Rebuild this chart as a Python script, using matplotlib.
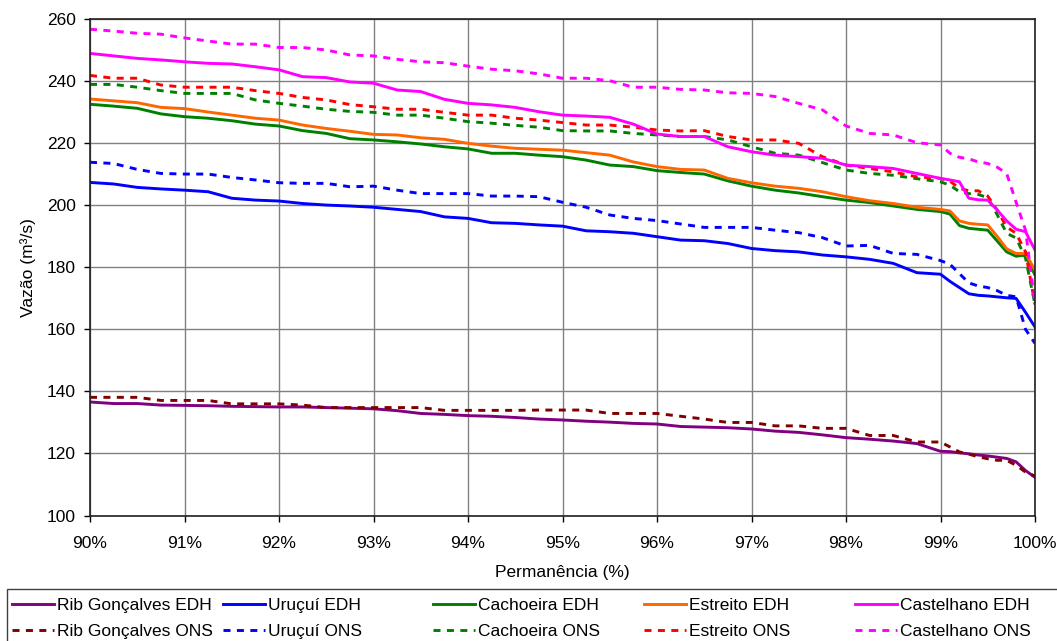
import numpy as np
import matplotlib
matplotlib.use("Agg")
import matplotlib.pyplot as plt
from matplotlib.patches import Rectangle
from matplotlib.ticker import FuncFormatter, MultipleLocator

plt.rcParams['font.family'] = ['Liberation Sans', 'DejaVu Sans']

# permanence (%)
perm = [90, 90.25, 90.5, 90.75, 91, 91.25, 91.5, 91.75, 92, 92.25, 92.5, 92.75,
        93, 93.25, 93.5, 93.75, 94, 94.25, 94.5, 94.75, 95, 95.25, 95.5, 95.75,
        96, 96.25, 96.5, 96.75, 97, 97.25, 97.5, 97.75, 98, 98.25, 98.5, 98.75,
        99, 99.1, 99.2, 99.3, 99.4, 99.5, 99.6, 99.7, 99.8, 99.9, 100]

rib_edh = [136.6, 136.1, 136.1, 135.6, 135.5, 135.4, 135.2, 135.1, 135.0, 135.0, 134.8, 134.6,
           134.4, 133.8, 132.9, 132.6, 132.2, 132.0, 131.6, 131.1, 130.8, 130.4, 130.1, 129.7,
           129.5, 128.7, 128.5, 128.3, 127.9, 127.2, 126.8, 126.0, 125.1, 124.6, 124.0, 123.2,
           120.7, 120.6, 120.2, 119.9, 119.5, 119.2, 118.8, 118.4, 117.3, 114.5, 112.3]
rib_ons = [138.1, 138.1, 138.1, 137.1, 137.1, 137.1, 136.0, 136.0, 136.0, 135.6, 134.8, 134.8,
           134.8, 134.8, 134.8, 133.9, 133.9, 133.9, 133.9, 134.0, 134.0, 134.0, 132.9, 132.9,
           132.9, 132.0, 131.1, 130.0, 130.0, 128.9, 128.9, 128.1, 128.1, 125.8, 125.8, 123.7,
           123.7, 122.1, 120.5, 119.8, 118.9, 118.3, 117.8, 117.8, 116.2, 114.0, 112.7]
urucui_edh = [207.4, 206.9, 205.8, 205.3, 204.9, 204.4, 202.3, 201.7, 201.4, 200.6, 200.1, 199.8,
              199.4, 198.7, 198.0, 196.3, 195.8, 194.4, 194.2, 193.7, 193.3, 191.8, 191.5, 191.0,
              189.9, 188.8, 188.6, 187.7, 186.1, 185.4, 185.0, 184.0, 183.4, 182.6, 181.3, 178.3,
              177.8, 175.5, 173.5, 171.5, 171.0, 170.8, 170.5, 170.2, 170.0, 165.5, 160.8]
urucui_ons = [213.9, 213.5, 211.6, 210.3, 210.1, 210.1, 209.0, 208.2, 207.3, 207.1, 207.1, 206.0,
              206.2, 204.9, 203.8, 203.8, 203.8, 203.0, 203.0, 202.8, 201.0, 199.4, 196.9, 195.8,
              195.1, 194.0, 192.9, 192.9, 192.9, 192.0, 191.2, 189.6, 186.9, 187.1, 184.5, 184.2,
              182.2, 181.0, 178.0, 175.0, 174.0, 173.5, 172.5, 171.0, 170.5, 160.0, 155.5]
cachoeira_edh = [232.6, 232.0, 231.3, 229.5, 228.6, 228.1, 227.3, 226.2, 225.6, 224.1, 223.2, 221.5,
                 221.1, 220.5, 219.8, 218.9, 218.2, 216.8, 216.8, 216.2, 215.7, 214.6, 213.0, 212.5,
                 211.2, 210.6, 210.1, 207.9, 206.2, 204.9, 204.0, 202.8, 201.7, 200.9, 199.8, 198.7,
                 198.0, 197.2, 193.5, 192.6, 192.3, 192.0, 188.5, 185.0, 183.6, 184.0, 177.5]
cachoeira_ons = [239.0, 239.0, 238.1, 237.0, 236.1, 236.1, 236.1, 234.0, 232.9, 232.0, 231.0, 230.3,
                 230.0, 229.1, 229.1, 228.1, 227.0, 226.5, 225.8, 225.2, 224.1, 224.0, 224.0, 223.2,
                 222.7, 222.2, 222.2, 221.1, 218.9, 216.8, 216.2, 213.8, 211.4, 210.3, 209.7, 208.6,
                 207.6, 206.5, 204.4, 203.8, 203.5, 202.5, 197.0, 191.0, 189.5, 183.0, 168.0]
estreito_edh = [234.3, 233.7, 233.1, 231.6, 231.2, 230.1, 229.1, 228.1, 227.5, 225.9, 224.8, 223.9,
                222.9, 222.7, 221.8, 221.3, 220.0, 219.1, 218.4, 218.1, 217.8, 217.0, 216.2, 214.0,
                212.5, 211.6, 211.4, 208.7, 207.3, 206.2, 205.5, 204.4, 202.8, 201.5, 200.6, 199.4,
                198.7, 198.2, 195.0, 194.2, 193.9, 193.7, 190.0, 186.0, 184.5, 184.5, 179.1]
estreito_ons = [241.9, 241.0, 241.0, 238.8, 238.1, 238.1, 238.1, 237.0, 236.1, 234.8, 234.0, 232.5,
                231.8, 231.0, 231.0, 230.0, 229.1, 229.1, 228.1, 227.5, 226.7, 225.9, 225.9, 225.2,
                224.3, 224.0, 224.1, 222.2, 221.1, 221.1, 220.0, 215.7, 213.0, 211.9, 210.8, 209.2,
                208.7, 207.8, 205.5, 204.7, 204.7, 203.0, 198.5, 193.0, 191.0, 185.0, 168.0]
castelhano_edh = [249.0, 248.2, 247.4, 246.9, 246.3, 245.8, 245.6, 244.7, 243.7, 241.5, 241.2, 239.8,
                  239.4, 237.2, 236.7, 234.2, 232.9, 232.4, 231.6, 230.2, 229.1, 228.8, 228.4, 226.2,
                  223.0, 222.2, 222.2, 218.9, 217.3, 216.2, 215.7, 215.2, 213.0, 212.5, 211.9, 210.3,
                  208.7, 208.2, 207.6, 202.3, 201.8, 201.7, 198.5, 195.0, 192.3, 191.5, 185.6]
castelhano_ons = [256.8, 256.2, 255.5, 255.2, 254.0, 253.0, 252.0, 252.0, 250.9, 250.9, 250.1, 248.5,
                  248.2, 247.1, 246.3, 246.0, 244.9, 243.9, 243.4, 242.4, 241.0, 241.0, 240.2, 238.1,
                  238.1, 237.4, 237.2, 236.3, 236.1, 235.1, 232.9, 230.8, 225.6, 223.2, 222.7, 220.2,
                  219.5, 216.8, 215.5, 215.0, 214.0, 213.5, 212.3, 210.3, 201.0, 192.0, 168.0]

edh_series = [("Rib Gonçalves EDH", rib_edh, "#800080"),
              ("Uruçuí EDH", urucui_edh, "#0000FF"),
              ("Cachoeira EDH", cachoeira_edh, "#008000"),
              ("Estreito EDH", estreito_edh, "#FF6600"),
              ("Castelhano EDH", castelhano_edh, "#FF00FF")]
ons_series = [("Rib Gonçalves ONS", rib_ons, "#800000"),
              ("Uruçuí ONS", urucui_ons, "#0000FF"),
              ("Cachoeira ONS", cachoeira_ons, "#008000"),
              ("Estreito ONS", estreito_ons, "#FF0000"),
              ("Castelhano ONS", castelhano_ons, "#FF00FF")]

W, H = 1057, 641
fig = plt.figure(figsize=(W / 100, H / 100), dpi=100)
ax = fig.add_axes([90 / W, 1 - 515.5 / H, 945 / W, 496.2 / H])

pairs = []
for (lab_e, ye, ce), (lab_o, yo, co) in zip(edh_series, ons_series):
    he, = ax.plot(perm, ye, color=ce, lw=2.1, label=lab_e)
    ho, = ax.plot(perm, yo, color=co, lw=2.1, ls=(0, (2.4, 2.2)), label=lab_o)
    pairs.append((he, ho))

ax.set_xlim(90, 100)
ax.set_ylim(100, 260)
ax.xaxis.set_major_locator(MultipleLocator(1))
ax.yaxis.set_major_locator(MultipleLocator(20))
ax.xaxis.set_major_formatter(FuncFormatter(lambda v, p: "{:d}%".format(int(round(v)))))
ax.grid(True, color="#808080", lw=1.0)
ax.set_axisbelow(True)
ax.tick_params(labelsize=12.5, direction="out", length=4, width=1, color="black")
ax.tick_params(axis="y", pad=6)
ax.tick_params(axis="x", pad=11)
for s in ax.spines.values():
    s.set_linewidth(1.2)
    s.set_color("#202020")

ax.set_xlabel("Permanência (%)", fontsize=12.5, labelpad=10)
ax.set_ylabel("Vazão (m³/s)", fontsize=12.5, labelpad=8)

# legend frame (runs off the bottom/right edge like the original)
fig.patches.append(Rectangle((7 / W, -0.05), 1.1, 1 - 589 / H + 0.05, transform=fig.transFigure,
                             fill=False, edgecolor="#404040", lw=1.0))

# one legend per column, evenly spaced like the original
col_x = [12, 223, 433, 644, 855]
for (he, ho), cx in zip(pairs, col_x):
    fig.legend([he, ho], [he.get_label(), ho.get_label()], loc="center left",
               bbox_to_anchor=(cx / W, 1 - 618.5 / H), frameon=False, fontsize=12.5,
               handlelength=2.4, handletextpad=0.22, labelspacing=0.6, borderpad=0,
               borderaxespad=0)

fig.savefig("out.png", dpi=100)
